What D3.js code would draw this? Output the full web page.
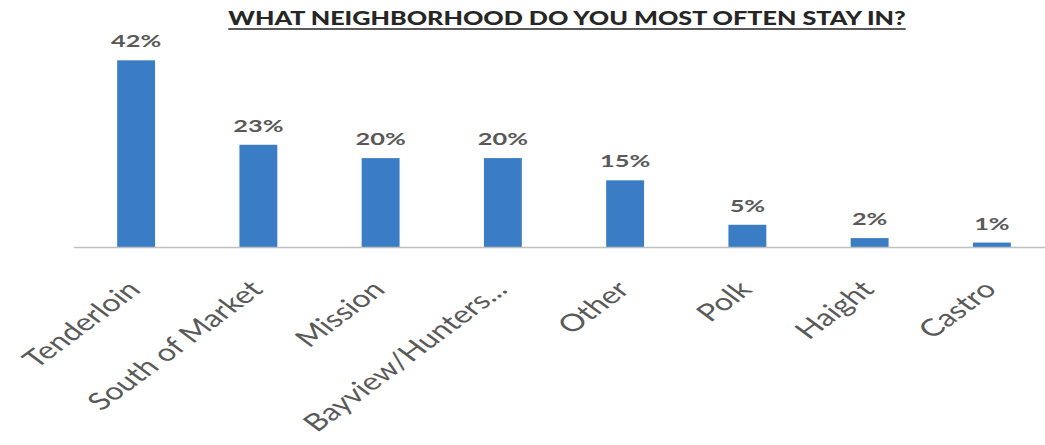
<!DOCTYPE html>
<html><head><meta charset="utf-8">
<script src="https://cdn.jsdelivr.net/npm/d3@7/dist/d3.min.js"></script>
<style>html,body{margin:0;padding:0;background:#fff;}svg{display:block;}</style>
</head><body>
<svg id="chart" width="1045" height="445"></svg>
<script>
const title = "WHAT NEIGHBORHOOD DO YOU MOST OFTEN STAY IN?";
const categories = ["Tenderloin","South of Market","Mission","Bayview/Hunters...","Other","Polk","Haight","Castro"];
const values = [42, 23, 20, 20, 15, 5, 2, 1];
const valueLabels = ["42%","23%","20%","20%","15%","5%","2%","1%"];

const svg = d3.select("#chart");
const font = "Lato, 'Open Sans', sans-serif";
const textColor = "#595959";
const sx = 1.35;

const x = d3.scaleBand().domain(categories).range([75, 1053]).paddingInner(0.69).paddingOuter(0.345);
const y = d3.scaleLinear().domain([0, 45]).range([247, 47]);

// bars
svg.append("g").selectAll("rect").data(values).join("rect")
  .attr("x", (d,i) => x(categories[i]))
  .attr("width", x.bandwidth())
  .attr("y", d => y(d))
  .attr("height", d => y(0) - y(d))
  .attr("fill", "#3b7dc4");

// axis
const axis = d3.axisBottom(x).tickSize(0).tickFormat("");
const ag = svg.append("g").attr("transform", `translate(0,${y(0)})`).call(axis);
ag.select(".domain").attr("stroke", "#c0c0c0").attr("stroke-width", 1.5).attr("d", "M74,0.5H1045");

// value labels
svg.append("g").selectAll("text").data(values).join("text")
  .attr("transform", (d,i) => `translate(${x(categories[i]) + x.bandwidth()/2},${y(d) - 13}) scale(1.45,1)`)
  .attr("text-anchor", "middle")
  .attr("font-family", font).attr("font-size", 17.5).attr("font-weight", 700)
  .attr("fill", textColor)
  .text((d,i) => valueLabels[i]);

// category labels
svg.append("g").selectAll("text").data(categories).join("text")
  .attr("transform", d => `translate(${x(d) + x.bandwidth()/2 + 6},${291}) scale(${sx},1) rotate(-45)`)
  .attr("text-anchor", "end")
  .attr("font-family", font).attr("font-size", 24).attr("font-weight", 400)
  .attr("fill", textColor)
  .text(d => d);

// title
const tsx = 1.4;
const t = svg.append("text")
  .attr("transform", `translate(567,25) scale(${tsx},1)`)
  .attr("text-anchor", "middle")
  .attr("font-family", font).attr("font-size", 18).attr("font-weight", 900)
  .attr("fill", "#262626")
  .text(title);
const bb = t.node().getBBox();
svg.append("line")
  .attr("x1", 567 + bb.x*tsx).attr("x2", 567 + (bb.x+bb.width)*tsx)
  .attr("y1", 29).attr("y2", 29)
  .attr("stroke", "#262626").attr("stroke-width", 1.3);
</script>
</body></html>
